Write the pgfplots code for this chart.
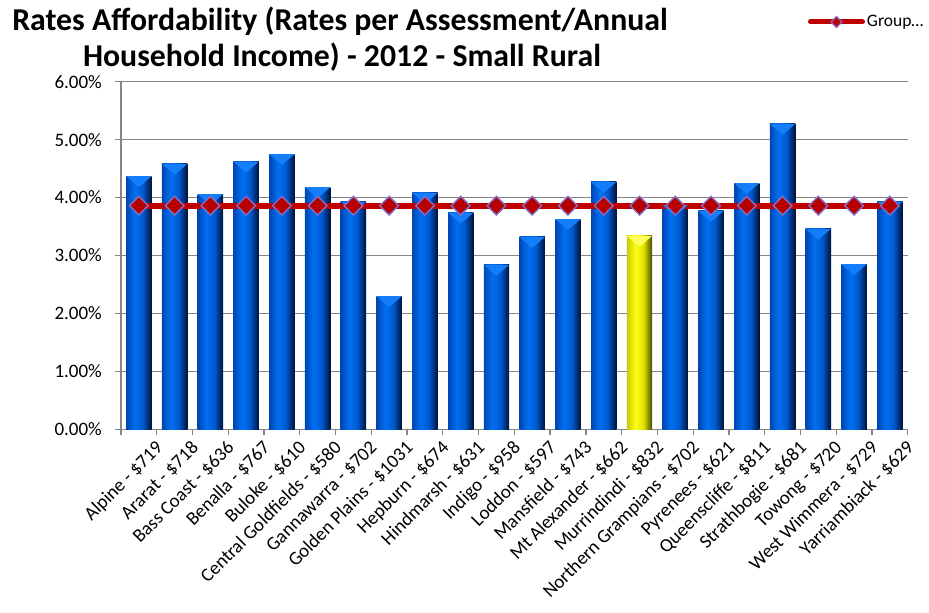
\documentclass[border=0pt]{standalone}
\usepackage{pgfplots}
\pgfplotsset{compat=1.18}
\usepackage{fontspec}
\setmainfont{Carlito}

\definecolor{gridgray}{RGB}{134,134,134}
\definecolor{avgred}{RGB}{192,0,0}
\definecolor{markedge}{RGB}{130,110,200}
\definecolor{bA}{RGB}{0,70,180}
\definecolor{bB}{RGB}{0,112,240}
\definecolor{bM}{RGB}{0,88,205}
\definecolor{bC}{RGB}{0,18,55}
\definecolor{bTop}{RGB}{20,125,250}
\definecolor{yA}{RGB}{200,200,0}
\definecolor{yB}{RGB}{255,255,20}
\definecolor{yM}{RGB}{225,225,0}
\definecolor{yC}{RGB}{70,70,0}
\definecolor{yTop}{RGB}{255,255,90}

% bevelled column look: light band left of centre, dark right edge
\pgfdeclarehorizontalshading{bluebar}{100bp}{color(0bp)=(bA); color(25bp)=(bA); color(42bp)=(bB); color(58bp)=(bM); color(75bp)=(bC); color(100bp)=(bC)}
\pgfdeclarehorizontalshading{yellowbar}{100bp}{color(0bp)=(yA); color(25bp)=(yA); color(42bp)=(yB); color(58bp)=(yM); color(75bp)=(yC); color(100bp)=(yC)}

% light bevel facet at the top of a column
\pgfdeclareplotmark{bevel}{%
  \pgfpathmoveto{\pgfqpoint{-12.7pt}{0pt}}%
  \pgfpathlineto{\pgfqpoint{12.7pt}{0pt}}%
  \pgfpathlineto{\pgfqpoint{0pt}{-11pt}}%
  \pgfpathclose
  \pgfusepathqfill}

\pgfplotsset{
  council/.style={ybar, bar width=25.4pt, draw=none, shading=bluebar, forget plot,
    mark=bevel, mark options={fill=bTop, draw=none}},
  highlight/.style={ybar, bar width=25.4pt, draw=none, shading=yellowbar, forget plot,
    mark=bevel, mark options={fill=yTop, draw=none}},
}

\begin{document}
\begin{tikzpicture}
\useasboundingbox (0pt,0pt) rectangle (929pt,613pt);

\node[anchor=base, font=\fontsize{31.8}{36}\selectfont\bfseries] at (340pt,582pt)
  {Rates Affordability (Rates per Assessment/Annual};
\node[anchor=base, font=\fontsize{31.8}{36}\selectfont\bfseries] at (342pt,546pt)
  {Household Income) - 2012 - Small Rural};

\begin{axis}[
  scale only axis,
  width=786.7pt, height=347.6pt,
  at={(121pt,183.7pt)}, anchor=south west,
  xmin=-0.5, xmax=21.5,
  ymin=0, ymax=6,
  ytick={0,1,...,6},
  xtick={0,1,...,21},
  minor xtick={-0.5,0.5,...,21.5},
  xticklabels={Alpine - \$719, Ararat - \$718, Bass Coast - \$636, Benalla - \$767,
    Buloke - \$610, Central Goldfields - \$580, Gannawarra - \$702,
    Golden Plains - \$1031, Hepburn - \$674, Hindmarsh - \$631, Indigo - \$958,
    Loddon - \$597, Mansfield - \$743, Mt Alexander - \$662, Murrindindi - \$832,
    Northern Grampians - \$702, Pyrenees - \$621, Queenscliffe - \$811,
    Strathbogie - \$681, Towong - \$720, West Wimmera - \$729, Yarriambiack - \$629},
  axis x line*=bottom, axis y line*=left,
  axis line style={draw=gridgray, line width=1.3pt, -},
  tick align=outside,
  major tick length=6pt, minor tick length=6pt,
  xtick style={draw=none},
  minor x tick style={draw=gridgray, line width=1.3pt},
  ytick style={draw=gridgray, line width=1.3pt},
  ymajorgrids,
  grid style={draw=gridgray, line width=1.3pt},
  /pgf/number format/assume math mode=true,
  yticklabel={\pgfmathprintnumber[fixed,fixed zerofill,precision=2]{\tick}\%},
  yticklabel style={font=\fontsize{19}{22}\selectfont, inner sep=0pt, xshift=-13pt},
  xticklabel style={font=\fontsize{19}{22}\selectfont, rotate=45, anchor=north east,
    inner sep=1pt, xshift=9pt, yshift=-13pt},
  legend style={at={(axis description cs:0.873,1.172)}, anchor=west, draw=none, fill=none,
    inner sep=0pt, font=\fontsize{17.5}{20}\selectfont},
  clip=false,
]
% one plot per column so each column gets its own shading
\addplot[council] coordinates {(0,4.37)};
\addplot[council] coordinates {(1,4.58)};
\addplot[council] coordinates {(2,4.06)};
\addplot[council] coordinates {(3,4.62)};
\addplot[council] coordinates {(4,4.75)};
\addplot[council] coordinates {(5,4.18)};
\addplot[council] coordinates {(6,3.93)};
\addplot[council] coordinates {(7,2.30)};
\addplot[council] coordinates {(8,4.08)};
\addplot[council] coordinates {(9,3.74)};
\addplot[council] coordinates {(10,2.84)};
\addplot[council] coordinates {(11,3.32)};
\addplot[council] coordinates {(12,3.63)};
\addplot[council] coordinates {(13,4.27)};
\addplot[highlight] coordinates {(14,3.34)};
\addplot[council] coordinates {(15,3.87)};
\addplot[council] coordinates {(16,3.77)};
\addplot[council] coordinates {(17,4.25)};
\addplot[council] coordinates {(18,5.27)};
\addplot[council] coordinates {(19,3.46)};
\addplot[council] coordinates {(20,2.85)};
\addplot[council] coordinates {(21,3.93)};
% group average
\addplot[avgred, line width=5.7pt, mark=square*,
  mark options={rotate=45, fill=avgred!95!black, draw=markedge, line width=1.4pt},
  mark size=6.6pt,
  legend image code/.code={
    \draw[avgred, line width=5pt, line cap=round] (0pt,0pt) -- (52pt,0pt);
    \draw[fill=avgred, draw=markedge, line width=1.2pt] (26pt,5.5pt) -- (31.5pt,0pt) -- (26pt,-5.5pt) -- (20.5pt,0pt) -- cycle;
  }]
  coordinates {(0,3.86) (1,3.86) (2,3.86) (3,3.86) (4,3.86) (5,3.86) (6,3.86)
    (7,3.86) (8,3.86) (9,3.86) (10,3.86) (11,3.86) (12,3.86) (13,3.86) (14,3.86)
    (15,3.86) (16,3.86) (17,3.86) (18,3.86) (19,3.86) (20,3.86) (21,3.86)};
\addlegendentry{Group…}
\end{axis}
\end{tikzpicture}
\end{document}
